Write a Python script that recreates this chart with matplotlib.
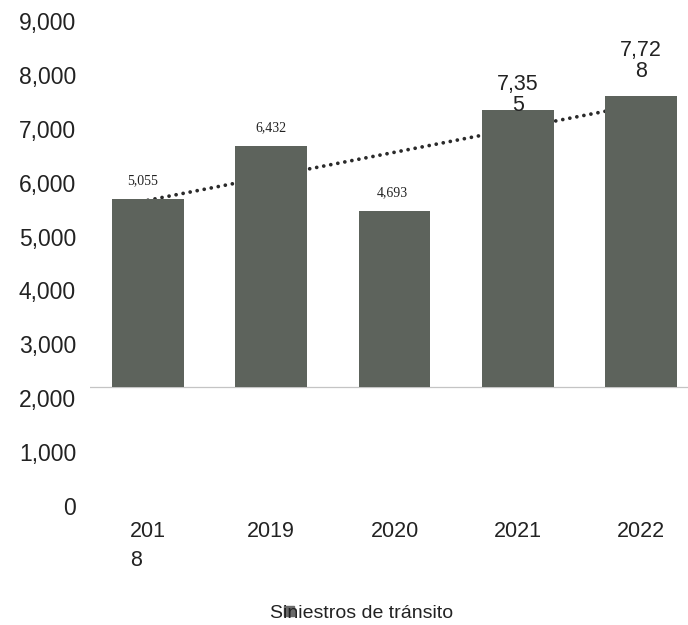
import numpy as np
import matplotlib
matplotlib.use("Agg")
import matplotlib.pyplot as plt
from matplotlib.lines import Line2D

# chart data
years        = ["201\n8", "2019", "2020", "2021", "2022"]
bar_tops     = np.array([5690, 6680, 5470, 7340, 7600])
bar_base     = 2200
value_labels = ["5,055", "6,432", "4,693", "7,35\n5", "7,72\n8"]
trend_ends   = [5674, 7454]
y_ticks      = [0, 1000, 2000, 3000, 4000, 5000, 6000, 7000, 8000, 9000]
legend_label = "Siniestros de tránsito"

bar_color  = "#5d635c"
text_color = "#222222"
sans       = "Liberation Sans"
serif      = "Liberation Serif"

W, H = 688, 625
fig = plt.figure(figsize=(W / 100, H / 100), dpi=100)
fig.patch.set_facecolor("white")

# axes placed in pixel terms: 0 -> y=506, 9000 -> y=21
ax = fig.add_axes([90 / W, (H - 506) / H, (W - 90) / W, (506 - 21) / H])
x = np.arange(len(years))

ax.bar(x, bar_tops - bar_base, bottom=bar_base, width=0.58,
       color=bar_color, zorder=3)
ax.axhline(bar_base, color="#c4c4c4", lw=0.9, zorder=1)

# trend line, behind the bars
ax.plot([x[0], x[-1]], trend_ends, color="#2a2a2a", lw=2.7,
        linestyle=(0, (0.01, 1.9)), dash_capstyle="round", zorder=2)

# value labels: first three small serif, last two larger sans
small_dx = [-4, 0, -1.5]
for i in range(3):
    ax.annotate(value_labels[i], (x[i], bar_tops[i]), xytext=(small_dx[i], 11),
                textcoords="offset points", ha="center", va="baseline",
                fontsize=10, family=serif, color=text_color, zorder=5)
big_dy = [-0.5, 13.7]
for j, i in enumerate([3, 4]):
    ax.annotate(value_labels[i], (x[i], bar_tops[i]), xytext=(0, big_dy[j]),
                textcoords="offset points", ha="center", va="baseline",
                fontsize=15.5, family=sans, color=text_color, linespacing=1.0,
                zorder=5)

ax.set_xlim(-0.47, 4.38)
ax.set_ylim(0, 9000)
ax.set_yticks(y_ticks)
ax.set_yticklabels(["{:,}".format(v) for v in y_ticks], fontsize=16.5,
                   family=sans, color=text_color)
ax.set_xticks(x)
ax.set_xticklabels(years, fontsize=15.5, family=sans, color=text_color)
first = ax.get_xticklabels()[0]
first.set_multialignment("left")
first.set_linespacing(1.5)
ax.tick_params(axis="y", length=0, pad=10)
ax.tick_params(axis="x", length=0, pad=11)
for s in ax.spines.values():
    s.set_visible(False)

# legend at the bottom: text with a small square over the "i"
fig.text(270 / W, 1 - 613 / H, legend_label, fontsize=14, family=sans,
         color=text_color, ha="left", va="center")
fig.add_artist(Line2D([289 / W], [1 - 611 / H], marker="s", markersize=6.5,
                      color="#6a6a6a", transform=fig.transFigure))

fig.savefig("out.png", dpi=100)
